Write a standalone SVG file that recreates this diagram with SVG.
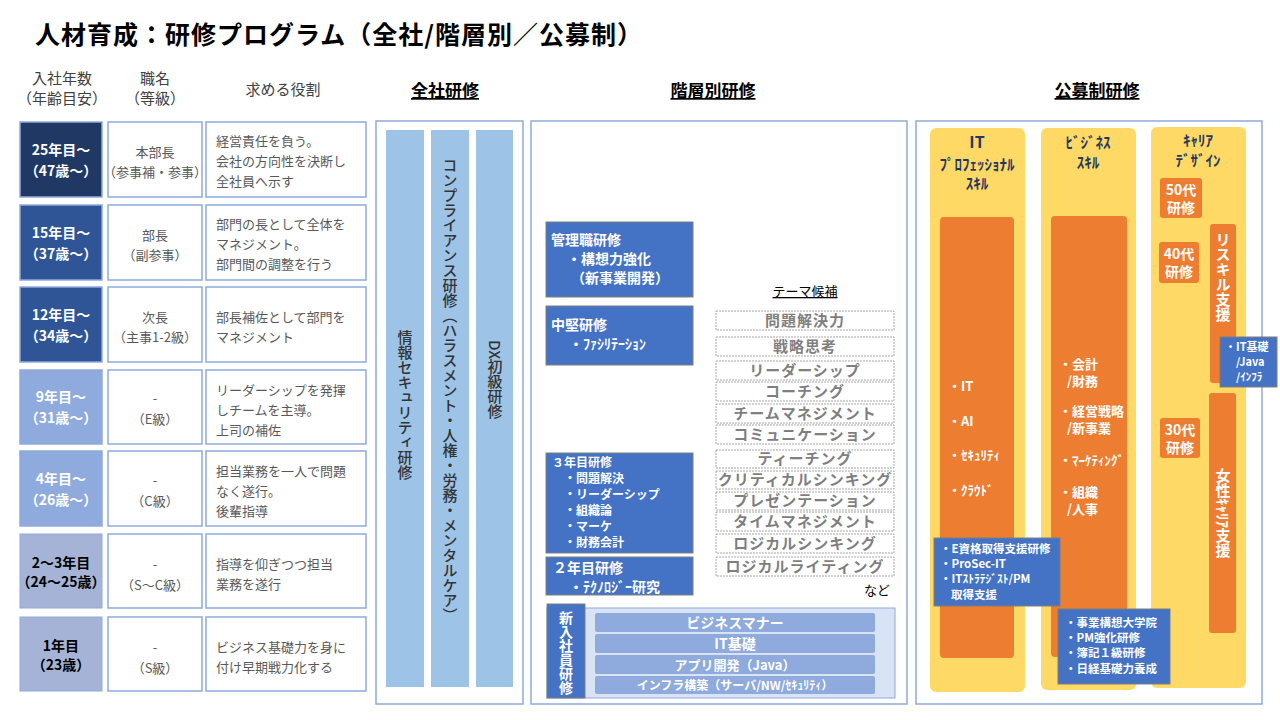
<svg xmlns="http://www.w3.org/2000/svg" width="1280" height="720" viewBox="0 0 1280 720">
<style>
text{font-family:"Noto Sans CJK JP","Noto Sans",sans-serif;}
.h{font-size:15px;fill:#404040;text-anchor:middle}
.hb{font-size:17px;font-weight:bold;fill:#000;text-anchor:middle;text-decoration:underline}
.cell{fill:#fff;stroke:#8FAADC;stroke-width:1.5}
.yr{font-size:14px;font-weight:bold;text-anchor:middle;fill:#fff}
.yk{font-size:14px;font-weight:bold;text-anchor:middle;fill:#000}
.pos{font-size:13px;fill:#595959;text-anchor:middle}
.role{font-size:13px;fill:#595959}
.bar{fill:#9DC3E6}
.vt{writing-mode:vertical-rl;font-size:15px;fill:#333;font-weight:500}
.blue{fill:#4472C4;stroke:#7F7F7F;stroke-width:1}
.bt{fill:#fff;font-size:14px;font-weight:bold}
.bs{fill:#fff;font-size:12px;font-weight:bold}
.bx{fill:#fff;font-size:11.5px;font-weight:bold}
.theme{fill:#fff;stroke:#A6A6A6;stroke-width:1;stroke-dasharray:2 1}
.tt{fill:#7F7F7F;font-size:15px;font-weight:bold;text-anchor:middle;letter-spacing:1px}
.nr{fill:#8FAADC}
.nt{fill:#fff;font-size:14px;font-weight:bold;text-anchor:middle}
.yel{fill:#FFD966}
.org{fill:#ED7D31}
.yh{fill:#1F3864;font-size:15px;font-weight:bold;text-anchor:middle}
.ot{fill:#fff;font-size:13px;font-weight:bold}
.otc{fill:#fff;font-size:14px;font-weight:bold;text-anchor:middle}
.frame{fill:#fff;stroke:#8FAADC;stroke-width:1.5}
</style>
<rect width="1280" height="720" fill="#fff"/>
<text x="35" y="44" font-size="25" font-weight="bold" fill="#000" letter-spacing="1">人材育成：研修プログラム（全社/階層別／公募制）</text>

<g id="headers">
<text class="h" x="62" y="84">入社年数</text><text class="h" x="62" y="104">（年齢目安）</text>
<text class="h" x="155" y="84">職名</text><text class="h" x="155" y="104">（等級）</text>
<text class="h" x="283" y="95">求める役割</text>
<text class="hb" x="445" y="97">全社研修</text>
<text class="hb" x="713" y="97">階層別研修</text>
<text class="hb" x="1097" y="97">公募制研修</text>
</g>

<g id="rows">
<rect x="20" y="122" width="82" height="75" fill="#1F3864" stroke="#8FAADC" stroke-width="1.5"/>
<text class="yr" x="61" y="155">25年目～</text><text class="yr" x="61" y="176">（47歳～）</text>
<rect class="cell" x="108" y="122" width="94" height="75"/>
<text class="pos" x="155" y="157">本部長</text><text class="pos" x="155" y="177">（参事補・参事）</text>
<rect class="cell" x="206" y="122" width="160" height="75"/>
<text class="role" x="216" y="146">経営責任を負う。</text><text class="role" x="216" y="166">会社の方向性を決断し</text><text class="role" x="216" y="186">全社員へ示す</text>

<rect x="20" y="205" width="82" height="75" fill="#2F5597" stroke="#8FAADC" stroke-width="1.5"/>
<text class="yr" x="61" y="238">15年目～</text><text class="yr" x="61" y="259">（37歳～）</text>
<rect class="cell" x="108" y="205" width="94" height="75"/>
<text class="pos" x="155" y="240">部長</text><text class="pos" x="155" y="260">（副参事）</text>
<rect class="cell" x="206" y="205" width="160" height="75"/>
<text class="role" x="216" y="229">部門の長として全体を</text><text class="role" x="216" y="249">マネジメント。</text><text class="role" x="216" y="269">部門間の調整を行う</text>

<rect x="20" y="287" width="82" height="75" fill="#2F5597" stroke="#8FAADC" stroke-width="1.5"/>
<text class="yr" x="61" y="320">12年目～</text><text class="yr" x="61" y="341">（34歳～）</text>
<rect class="cell" x="108" y="287" width="94" height="75"/>
<text class="pos" x="155" y="322">次長</text><text class="pos" x="155" y="342">（主事1-2級）</text>
<rect class="cell" x="206" y="287" width="160" height="75"/>
<text class="role" x="216" y="322">部長補佐として部門を</text><text class="role" x="216" y="342">マネジメント</text>

<rect x="20" y="370" width="82" height="74" fill="#8FAADC" stroke="#8FAADC" stroke-width="1.5"/>
<text class="yr" x="61" y="402">9年目～</text><text class="yr" x="61" y="423">（31歳～）</text>
<rect class="cell" x="108" y="370" width="94" height="74"/>
<text class="pos" x="155" y="403">-</text><text class="pos" x="155" y="424">（E級）</text>
<rect class="cell" x="206" y="370" width="160" height="74"/>
<text class="role" x="216" y="395">リーダーシップを発揮</text><text class="role" x="216" y="415">しチームを主導。</text><text class="role" x="216" y="435">上司の補佐</text>

<rect x="20" y="451" width="82" height="75" fill="#8FAADC" stroke="#8FAADC" stroke-width="1.5"/>
<text class="yr" x="61" y="484">4年目～</text><text class="yr" x="61" y="505">（26歳～）</text>
<rect class="cell" x="108" y="451" width="94" height="75"/>
<text class="pos" x="155" y="485">-</text><text class="pos" x="155" y="506">（C級）</text>
<rect class="cell" x="206" y="451" width="160" height="75"/>
<text class="role" x="216" y="476">担当業務を一人で問題</text><text class="role" x="216" y="496">なく遂行。</text><text class="role" x="216" y="516">後輩指導</text>

<rect x="20" y="534" width="82" height="74" fill="#A5B4D6" stroke="#8FAADC" stroke-width="1"/>
<text class="yk" x="61" y="568">2～3年目</text><text class="yk" x="61" y="587">（24～25歳）</text>
<rect class="cell" x="108" y="534" width="94" height="74"/>
<text class="pos" x="155" y="569">-</text><text class="pos" x="155" y="590">（S～C級）</text>
<rect class="cell" x="206" y="534" width="160" height="74"/>
<text class="role" x="216" y="569">指導を仰ぎつつ担当</text><text class="role" x="216" y="589">業務を遂行</text>

<rect x="20" y="617" width="82" height="74" fill="#A5B4D6" stroke="#8FAADC" stroke-width="1"/>
<text class="yk" x="61" y="651">1年目</text><text class="yk" x="61" y="670">（23歳）</text>
<rect class="cell" x="108" y="617" width="94" height="74"/>
<text class="pos" x="155" y="652">-</text><text class="pos" x="155" y="673">（S級）</text>
<rect class="cell" x="206" y="617" width="160" height="74"/>
<text class="role" x="216" y="652">ビジネス基礎力を身に</text><text class="role" x="216" y="672">付け早期戦力化する</text>
</g>

<g id="zensha">
<rect class="frame" x="376" y="121" width="147" height="583"/>
<rect class="bar" x="386" y="130" width="38" height="557"/>
<rect class="bar" x="431" y="130" width="38" height="557"/>
<rect class="bar" x="476" y="130" width="37" height="557"/>
<text class="vt" x="405" y="330">情報セキュリティ研修</text>
<text class="vt" x="450" y="158">コンプライアンス研修（ハラスメント・人権・労務・メンタルケア）</text>
<text class="vt" x="495" y="340">DX初級研修</text>
</g>

<g id="kaisou">
<rect class="frame" x="531" y="121" width="376" height="583"/>
<rect class="blue" x="546" y="222" width="147" height="75"/>
<text class="bt" x="551" y="245">管理職研修</text><text class="bt" x="567" y="264">・構想力強化</text><text class="bt" x="571" y="283">（新事業開発）</text>
<rect class="blue" x="546" y="306" width="147" height="59"/>
<text class="bt" x="551" y="330">中堅研修</text><text class="bt" x="569" y="349">・ﾌｧｼﾘﾃｰｼｮﾝ</text>
<rect class="blue" x="546" y="453" width="147" height="100"/>
<text class="bs" x="552" y="467">３年目研修</text>
<text class="bs" x="564" y="483">・問題解決</text><text class="bs" x="564" y="499">・リーダーシップ</text><text class="bs" x="564" y="515">・組織論</text><text class="bs" x="564" y="531">・マーケ</text><text class="bs" x="564" y="547">・財務会計</text>
<rect class="blue" x="546" y="557" width="147" height="38"/>
<text class="bt" x="553" y="573">２年目研修</text><text class="bt" x="569" y="592">・ﾃｸﾉﾛｼﾞｰ研究</text>
<text x="805" y="296" font-size="13" fill="#000" text-anchor="middle" text-decoration="underline">テーマ候補</text>
<rect class="theme" x="716" y="311" width="178" height="19"/><text class="tt" x="805" y="326">問題解決力</text>
<rect class="theme" x="716" y="337" width="178" height="19"/><text class="tt" x="805" y="352">戦略思考</text>
<rect class="theme" x="716" y="361" width="178" height="19"/><text class="tt" x="805" y="376">リーダーシップ</text>
<rect class="theme" x="716" y="382" width="178" height="19"/><text class="tt" x="805" y="397">コーチング</text>
<rect class="theme" x="716" y="404" width="178" height="19"/><text class="tt" x="805" y="419">チームマネジメント</text>
<rect class="theme" x="716" y="425" width="178" height="19"/><text class="tt" x="805" y="440">コミュニケーション</text>
<rect class="theme" x="716" y="450" width="178" height="18"/><text class="tt" x="805" y="464">ティーチング</text>
<rect class="theme" x="716" y="471" width="178" height="18"/><text class="tt" x="805" y="485">クリティカルシンキング</text>
<rect class="theme" x="716" y="492" width="178" height="18"/><text class="tt" x="805" y="506">プレゼンテーション</text>
<rect class="theme" x="716" y="512" width="178" height="19"/><text class="tt" x="805" y="527">タイムマネジメント</text>
<rect class="theme" x="716" y="534" width="178" height="19"/><text class="tt" x="805" y="549">ロジカルシンキング</text>
<rect class="theme" x="716" y="557" width="178" height="19"/><text class="tt" x="805" y="572">ロジカルライティング</text>
<text x="877" y="595" font-size="13" fill="#000" text-anchor="middle">など</text>
<rect x="547" y="608" width="348" height="90" fill="#DAE3F3" stroke="#8FAADC" stroke-width="1"/>
<rect x="547" y="604" width="38" height="94" fill="#4472C4" stroke="#7F7F7F" stroke-width="1"/>
<text class="vt" x="566" y="611" style="fill:#fff;font-weight:bold;font-size:14px">新入社員研修</text>
<rect class="nr" x="595" y="613" width="280" height="19" rx="2"/><text class="nt" x="735" y="628">ビジネスマナー</text>
<rect class="nr" x="595" y="634" width="280" height="19" rx="2"/><text class="nt" x="735" y="649">IT基礎</text>
<rect class="nr" x="595" y="655" width="280" height="19" rx="2"/><text class="nt" x="735" y="670" style="font-size:13px">アプリ開発（Java）</text>
<rect class="nr" x="595" y="676" width="280" height="18" rx="2"/><text class="nt" x="735" y="690" style="font-size:12px">インフラ構築（サーバ/NW/ｾｷｭﾘﾃｨ）</text>
</g>

<g id="koubo">
<rect class="frame" x="916" y="121" width="346" height="583"/>
<rect class="yel" x="930" y="128" width="95" height="564" rx="6"/>
<rect class="yel" x="1041" y="128" width="95" height="562" rx="6"/>
<rect class="yel" x="1151" y="127" width="95" height="561" rx="6"/>
<text class="yh" x="977" y="148" style="font-size:16px">IT</text>
<text class="yh" x="977" y="170">ﾌﾟﾛﾌｪｯｼｮﾅﾙ</text><text class="yh" x="977" y="189">ｽｷﾙ</text>
<text class="yh" x="1088" y="148">ﾋﾞｼﾞﾈｽ</text><text class="yh" x="1088" y="168">ｽｷﾙ</text>
<text class="yh" x="1198" y="146">ｷｬﾘｱ</text><text class="yh" x="1198" y="166">ﾃﾞｻﾞｲﾝ</text>
<rect class="org" x="940" y="217" width="74" height="441" rx="4"/>
<text class="ot" x="948" y="391">・IT</text><text class="ot" x="948" y="426">・AI</text><text class="ot" x="948" y="460">・ｾｷｭﾘﾃｨ</text><text class="ot" x="948" y="495">・ｸﾗｳﾄﾞ</text>
<rect class="org" x="1051" y="216" width="76" height="441" rx="4"/>
<text class="ot" x="1059" y="369">・会計</text><text class="ot" x="1067" y="386">/財務</text>
<text class="ot" x="1059" y="416">・経営戦略</text><text class="ot" x="1067" y="433">/新事業</text>
<text class="ot" x="1059" y="465">・ﾏｰｹﾃｨﾝｸﾞ</text>
<text class="ot" x="1059" y="497">・組織</text><text class="ot" x="1067" y="514">/人事</text>
<rect class="org" x="1160" y="178" width="42" height="40" rx="3"/><text class="otc" x="1181" y="195">50代</text><text class="otc" x="1181" y="213">研修</text>
<rect class="org" x="1159" y="242" width="40" height="41" rx="3"/><text class="otc" x="1179" y="259">40代</text><text class="otc" x="1179" y="277">研修</text>
<rect class="org" x="1160" y="418" width="40" height="40" rx="3"/><text class="otc" x="1180" y="435">30代</text><text class="otc" x="1180" y="453">研修</text>
<rect class="org" x="1210" y="224" width="26" height="159" rx="3"/>
<text class="vt" x="1223" y="232" style="fill:#fff;font-weight:bold;font-size:15px">リスキル支援</text>
<rect class="org" x="1209" y="393" width="27" height="240" rx="3"/>
<text class="vt" x="1223" y="468" style="fill:#fff;font-weight:bold;font-size:15px">女性ｷｬﾘｱ支援</text>
<rect class="blue" x="1220" y="337" width="57" height="50"/>
<text class="bs" x="1225" y="351" style="font-size:11px">・IT基礎</text><text class="bs" x="1236" y="366" style="font-size:11px">/Java</text><text class="bs" x="1236" y="381" style="font-size:11px">/ｲﾝﾌﾗ</text>
<rect class="blue" x="934" y="538" width="126" height="68"/>
<text class="bx" x="940" y="553">・E資格取得支援研修</text><text class="bx" x="940" y="568">・ProSec-IT</text><text class="bx" x="940" y="583">・ITｽﾄﾗﾃｼﾞｽﾄ/PM</text><text class="bx" x="951" y="599">取得支援</text>
<rect class="blue" x="1058" y="609" width="112" height="75"/>
<text class="bx" x="1065" y="627">・事業構想大学院</text><text class="bx" x="1065" y="642">・PM強化研修</text><text class="bx" x="1065" y="657">・簿記１級研修</text><text class="bx" x="1065" y="673">・日経基礎力養成</text>
</g>
</svg>
